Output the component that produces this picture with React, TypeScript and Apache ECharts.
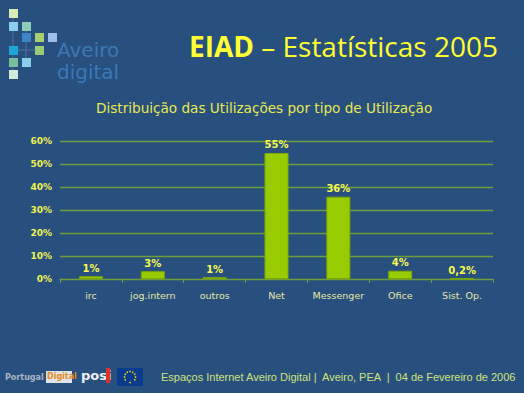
import React, { useEffect, useRef } from "react";
import * as echarts from "echarts";

const categories = ["irc", "jog.intern", "outros", "Net", "Messenger", "Ofice", "Sist. Op."];
const values = [1.2, 3.4, 0.8, 54.8, 35.8, 3.6, 0.2];
const yTicks = [0, 10, 20, 30, 40, 50, 60];

const BG = "#28507F";
const YELLOW = "#FFFF33";

function pctLabel(v: number): string {
  if (v < 0.5) return String(v).replace(".", ",") + "%";
  return Math.round(v) + "%";
}

const logoSquares: [number, number, string][] = [
  [9, 9, "#D8ECB8"],
  [9, 22, "#8CCDEB"],
  [22, 22, "#8ECDB8"],
  [22, 33, "#3F84C8"],
  [35, 33, "#A8D070"],
  [48, 33, "#9CC0EA"],
  [9, 46, "#1EA6DA"],
  [35, 46, "#9CCB78"],
  [9, 58, "#78BD9C"],
  [22, 58, "#8CCFEA"],
  [9, 70, "#CDEBD8"],
];

export default function App() {
  const ref = useRef<HTMLDivElement>(null);
  useEffect(() => {
    if (!ref.current) return;
    const chart = echarts.init(ref.current, null, { renderer: "svg" });
    const graphics: any[] = [];
    graphics.push({ type: "line", shape: { x1: 13, y1: 13, x2: 13, y2: 78 }, style: { stroke: "#4C72A0", lineWidth: 1 } });
    graphics.push({ type: "line", shape: { x1: 9, y1: 50, x2: 44, y2: 50 }, style: { stroke: "#4C72A0", lineWidth: 1 } });
    graphics.push({ type: "line", shape: { x1: 26, y1: 26, x2: 26, y2: 66 }, style: { stroke: "#4C72A0", lineWidth: 1 } });
    logoSquares.forEach(([x, y, c]) => {
      graphics.push({ type: "rect", shape: { x, y, width: 9, height: 9 }, style: { fill: c } });
    });
    graphics.push({
      type: "text", left: 57, top: 39,
      style: { text: "Aveiro\ndigital", fill: "#3A78B8", font: "20px 'DejaVu Sans'", lineHeight: 22 },
    });
    graphics.push({
      type: "text", left: 5, top: 373,
      style: { text: "Portugal", fill: "#A9B4C2", font: "bold 8px 'DejaVu Sans'" },
    });
    graphics.push({ type: "rect", shape: { x: 46, y: 371, width: 26, height: 12 }, style: { fill: "#E0E4EA" } });
    graphics.push({
      type: "text", left: 47, top: 372,
      style: { text: "Digital", fill: "#E08A20", font: "bold 8px 'DejaVu Sans'" },
    });
    graphics.push({
      type: "text", left: 81, top: 369,
      style: { text: "posi", fill: "#F2F2F2", font: "bold 13px 'DejaVu Sans'" },
    });
    graphics.push({ type: "rect", shape: { x: 106, y: 368, width: 4, height: 15 }, style: { fill: "#E0302A" } });
    graphics.push({ type: "rect", shape: { x: 117, y: 368, width: 26, height: 18 }, style: { fill: "#0B3B8E" } });
    for (let i = 0; i < 12; i++) {
      const a = (i / 12) * Math.PI * 2;
      graphics.push({ type: "circle", shape: { cx: 130 + Math.cos(a) * 5.5, cy: 377 + Math.sin(a) * 5.5, r: 0.8 }, style: { fill: "#F5D000" } });
    }
    graphics.push({
      type: "text", left: 161, top: 371,
      style: {
        text: "Espaços Internet Aveiro Digital |  Aveiro, PEA  |  04 de Fevereiro de 2006",
        fill: "#CFE27A", font: "11px 'Liberation Sans'",
      },
    });

    chart.setOption({
      animation: false,
      backgroundColor: BG,
      title: [
        {
          text: "{b|EIAD} – Estatísticas 2005",
          right: 21, top: 27,
          textStyle: {
            color: YELLOW, fontSize: 28, fontFamily: "'Open Sans'", fontWeight: "normal",
            rich: { b: { color: YELLOW, fontSize: 28, fontFamily: "'Open Sans'", fontWeight: "bold" } },
          },
        },
        {
          text: "Distribuição das Utilizações por tipo de Utilização",
          left: 91, top: 96,
          textStyle: { color: "#E8E850", fontSize: 13.6, fontFamily: "'DejaVu Sans'", fontWeight: "normal" },
        },
      ],
      graphic: graphics,
      grid: { left: 60, right: 31, top: 141, bottom: 114, containLabel: false },
      xAxis: {
        type: "category",
        data: categories,
        axisLine: { lineStyle: { color: "#6E9E3A", width: 1 } },
        axisTick: { show: true, length: 4, lineStyle: { color: "#6E9E3A" } },
        axisLabel: { interval: 0, color: "#E6E6A8", fontSize: 9.5, fontFamily: "'DejaVu Sans'", margin: 11 },
      },
      yAxis: {
        type: "value",
        min: 0, max: 60, interval: 10,
        axisLine: { show: false },
        axisTick: { show: false },
        splitLine: { lineStyle: { color: "#6E9E3A", width: 1.4 } },
        axisLabel: {
          color: "#F2F250", fontSize: 9, fontWeight: "bold", fontFamily: "'DejaVu Sans'", margin: 8,
          formatter: (v: number) => (yTicks.includes(v) ? v + "%" : ""),
        },
      },
      series: [
        {
          type: "bar",
          data: values,
          barWidth: 24,
          itemStyle: { color: "#99CC00", borderColor: "#7FA800", borderWidth: 1 },
          label: {
            show: true, position: "top", distance: 3,
            color: "#F8F850", fontSize: 10, fontWeight: "bold", fontFamily: "'DejaVu Sans'",
            formatter: (p: any) => pctLabel(p.value),
          },
        },
      ],
    });
    return () => chart.dispose();
  }, []);
  return <div ref={ref} style={{ position: "fixed", left: 0, top: 0, width: 524, height: 393 }} />;
}
